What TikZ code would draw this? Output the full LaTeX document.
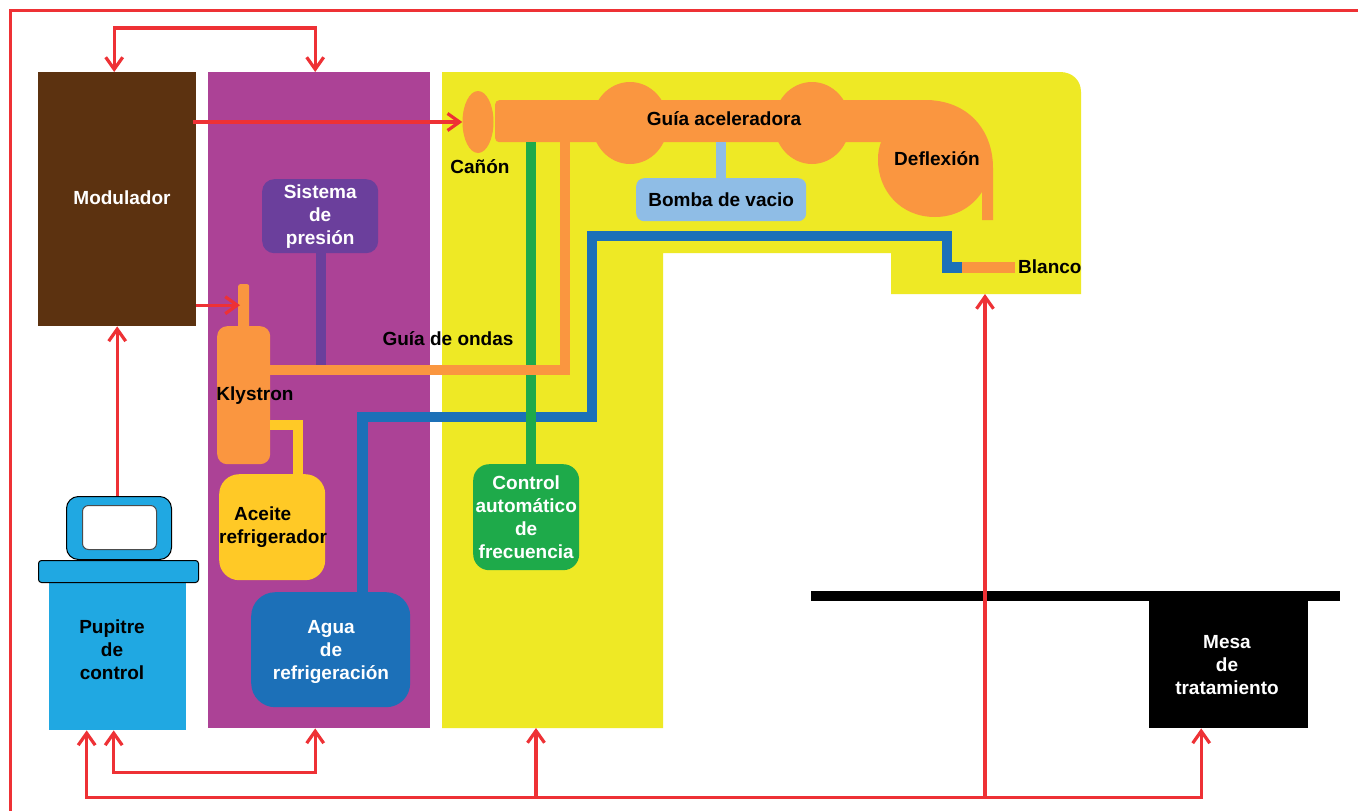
\documentclass[tikz,border=0pt]{standalone}
\usepackage{fontspec}
\setmainfont{Liberation Sans}
\usetikzlibrary{arrows.meta,shapes.geometric}

\tikzset{
  box/.style={rectangle, inner sep=0pt, anchor=north west, align=center,
    font=\fontsize{19}{23}\selectfont\bfseries},
  tag/.style={box, anchor=center},
  pipe/.style={line width=10.5pt},
  signal/.style={draw=redline, line width=3.2pt},
}

\definecolor{redline}{HTML}{EE3135}
\definecolor{brownbox}{HTML}{5C3210}
\definecolor{purplebox}{HTML}{AC4296}
\definecolor{yellowbox}{HTML}{EEE925}
\definecolor{orangepart}{HTML}{FA9640}
\definecolor{violetbox}{HTML}{6B3F9C}
\definecolor{goldbox}{HTML}{FFC926}
\definecolor{bluebox}{HTML}{1C70B8}
\definecolor{skybox}{HTML}{20A8E2}
\definecolor{greenbox}{HTML}{1EAA4A}
\definecolor{palebox}{HTML}{8FBDE6}

\begin{document}
\begin{tikzpicture}[x=1pt, y=-1pt, >={Straight Barb[length=12pt,width=17pt]}, line join=miter]
\useasboundingbox (0,0) rectangle (1358,811);
\fill[white] (0,0) rectangle (1358,811);
% outer frame
\draw[redline, line width=3pt] (10,815) -- (10,10.5) -- (1360,10.5);

% large panels
\node[box, fill=brownbox, minimum width=158pt, minimum height=254pt] (modulador) at (38,72) {};
\node[box, fill=purplebox, minimum width=222pt, minimum height=656pt] (cabinet) at (208,72) {};
\fill[yellowbox] (442,72) -- (1060,72) .. controls (1072,72) and (1081,80) .. (1081,92)
  -- (1081,294) -- (891,294) -- (891,253) -- (663,253) -- (663,728) -- (442,728) -- cycle;
\coordinate (gantry) at (985,294);
\coordinate (stand) at (536,728);
\coordinate (trunk) at (0,797);

% accelerator
\node[ellipse, fill=orangepart, minimum width=31pt, minimum height=62pt, inner sep=0pt] (canon) at (478,122) {};
\node[box, fill=orangepart, rounded corners=4pt, minimum width=440pt, minimum height=42pt] (guia) at (495,100) {};
\fill[orangepart] (630,123) ellipse [x radius=38, y radius=41];
\fill[orangepart] (812,123) ellipse [x radius=38, y radius=41];
\fill[orangepart] (925,100) .. controls (968,100) and (993,130) .. (993,168) -- (993,220) -- (982,220)
  -- (982,192) .. controls (970,210) and (952,217) .. (935,217)
  .. controls (900,217) and (878,190) .. (878,160) .. controls (878,152) and (879,148) .. (881,142) -- (925,142) -- cycle;
\node[box, fill=orangepart, minimum width=53pt, minimum height=11pt] (blanco) at (962,262) {};

% boxes with their text
\node[box, fill=violetbox, text=white, rounded corners=12pt, minimum width=116pt, minimum height=74pt] (sistema) at (262,179) {Sistema\\de\\presión};
\node[box, fill=orangepart, rounded corners=10pt, minimum width=53pt, minimum height=138pt] (klystron) at (217,326) {};
\node[box, fill=orangepart, minimum width=11pt, minimum height=44pt, rounded corners=2pt] (entrada) at (238,284) {};
\node[box, fill=goldbox, rounded corners=20pt, minimum width=106pt, minimum height=106pt] (aceite) at (219,474) {};
\node[box, fill=bluebox, rounded corners=24pt, minimum width=159pt, minimum height=115pt] (agua) at (251,592) {};
\node[box, fill=greenbox, text=white, rounded corners=16pt, minimum width=106pt, minimum height=106pt] (control) at (473,464) {Control\\automático\\de\\frecuencia};
\node[box, fill=palebox, rounded corners=8pt, minimum width=170pt, minimum height=43pt] (bomba) at (636,178) {Bomba de vacio};
\node[box, fill=skybox, minimum width=137pt, minimum height=148pt] (pupitre) at (49,582) {};
\node[box, fill=skybox, draw=black, line width=1pt, rounded corners=3pt, minimum width=160pt, minimum height=22pt] (tablero) at (38,560) {};
\node[box, fill=skybox, draw=black, line width=1pt, rounded corners=12pt, minimum width=105pt, minimum height=63pt] (monitor) at (66,496) {};
\node[box, fill=white, draw=black!70, line width=1pt, rounded corners=6pt, minimum width=74pt, minimum height=44pt] (pantalla) at (82,505) {};
\node[box, fill=black, minimum width=529pt, minimum height=10pt] (camilla) at (811,591) {};
\node[box, fill=black, minimum width=159pt, minimum height=127pt] (mesa) at (1149,601) {};

% pipes
\coordinate (bendlow) at (592,417);
\coordinate (bendtop) at (947,236);
\draw[pipe, bluebox] ([xshift=32pt]agua.north) |- (bendlow) |- (bendtop) |- (blanco.west);
\draw[pipe, violetbox] ([xshift=1pt]sistema.south) -- ++(0,113);
\draw[pipe, palebox] (bomba.north) -- (bomba.north |- guia.south);
\draw[pipe, greenbox] ([xshift=5pt]control.north) -- ([xshift=5pt]control.north |- guia.south);
\draw[pipe, goldbox] ([yshift=-30pt]klystron.east) -| ([xshift=26pt]aceite.north);
\draw[pipe, orangepart] ([yshift=25pt]klystron.east) -| ([xshift=-150pt]guia.south);

% labels off the centre of their shapes
\node[tag, text=white] (lblmodulador) at (122,198) {Modulador};
\node[tag] (lblcanon) at (480,167) {Cañón};
\node[tag] (lblguia) at (724,119) {Guía aceleradora};
\node[tag] (lbldeflexion) at (937,159) {Deflexión};
\node[tag, anchor=west] (lblblanco) at (1018,267) {Blanco};
\node[tag] (lblondas) at (448,339) {Guía de ondas};
\node[tag] (lblklystron) at (255,396) {Klystron};
\node[tag, anchor=west, align=left] (lblaceite) at (219,527) {\hspace*{15pt}Aceite\\refrigerador};
\node[tag, text=white] (lblagua) at (331,652) {Agua\\de\\refrigeración};
\node[tag] (lblpupitre) at (112,650) {Pupitre\\de\\control};
\node[tag, text=white] (lblmesa) at (1227,665) {Mesa\\de\\tratamiento};

% signal lines
\draw[signal, <->] ([xshift=-3pt]modulador.north) -- ++(0,-44) -| ([xshift=-4pt]cabinet.north);
\draw[signal, ->] (modulador.east |- canon) ++(-3,0) -- (canon.west);
\draw[signal, ->] ([yshift=-106pt]modulador.east) -- ([xshift=2pt,yshift=1pt]entrada.west);
\draw[signal, ->] (monitor.north -| modulador.south) -- (modulador.south);
\draw[signal, <->] ([xshift=-4pt]pupitre.south) -- ++(0,42) -| ([xshift=-4pt]cabinet.south);
\draw[signal, <->] ([xshift=-31pt]pupitre.south) -- ++(0,67) -| ([xshift=-27.5pt]mesa.south);
\foreach \target in {stand, gantry}
  \draw[signal, ->] (\target |- trunk) -- (\target);
\end{tikzpicture}
\end{document}
